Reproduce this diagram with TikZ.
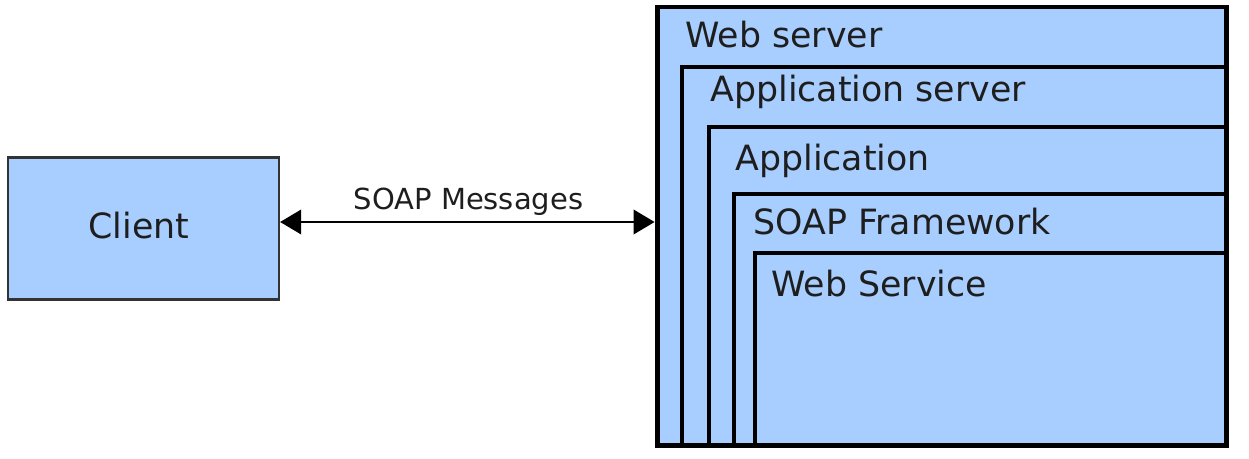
\documentclass[tikz,border=0pt]{standalone}
\usepackage{fontspec}
\setmainfont{DejaVu Sans}
\usepackage{tikz}
\usetikzlibrary{arrows.meta}
\definecolor{srvblue}{RGB}{168,206,255}
\definecolor{txtgray}{RGB}{30,30,30}

\begin{document}
\begin{tikzpicture}[x=0.02cm, y=-0.02cm,
    box/.style={draw=black, fill=srvblue, inner sep=0pt},
    lbl/.style={anchor=base west, inner sep=0pt, text=txtgray, font=\fontsize{19.8}{23}\selectfont},
    arr/.style={{Triangle[length=12pt, width=14pt]}-{Triangle[length=12pt, width=14pt]}, line width=1.1pt}
  ]
    \useasboundingbox (0,0) rectangle (1249,459);
    \node[box, draw=black!80, line width=1.3pt, minimum width=5.42cm, minimum height=2.84cm](client) at (143.5,228.5) {};
    \node[anchor=center, inner sep=0pt, text=txtgray, font=\fontsize{19.8}{23}\selectfont](clientlbl) at (139,226) {Client};
    % nested server boxes
    \node[box, line width=2.8pt, minimum width=11.4cm,  minimum height=8.78cm](websrv) at (942,226.5) {};
    \node[box, line width=2.7pt, minimum width=10.88cm, minimum height=7.56cm](appsrv) at (954,256) {};
    \node[box, line width=2.4pt, minimum width=10.34cm, minimum height=6.36cm](app)    at (967.5,286) {};
    \node[box, line width=2.1pt, minimum width=9.84cm,  minimum height=5.02cm](soapfw) at (980,319.5) {};
    \node[box, line width=2.1pt, minimum width=9.42cm,  minimum height=3.84cm](websvc) at (990.5,349) {};
    \node[lbl](websrvlbl) at (685,47.5)  {Web server};
    \node[lbl](appsrvlbl) at (710,101.5) {Application server};
    \node[lbl](applbl)    at (735,171)   {Application};
    \node[lbl](soapfwlbl) at (753,235)   {SOAP Framework};
    \node[lbl](websvclbl) at (771,297)   {Web Service};
    \draw[arr](client.east |- 0,222) -- (websrv.west |- 0,222);
    \node[anchor=base, inner sep=0pt, text=txtgray, font=\fontsize{16.5}{19}\selectfont](msg) at (468.5,210) {SOAP Messages};
  \end{tikzpicture}
\end{document}
